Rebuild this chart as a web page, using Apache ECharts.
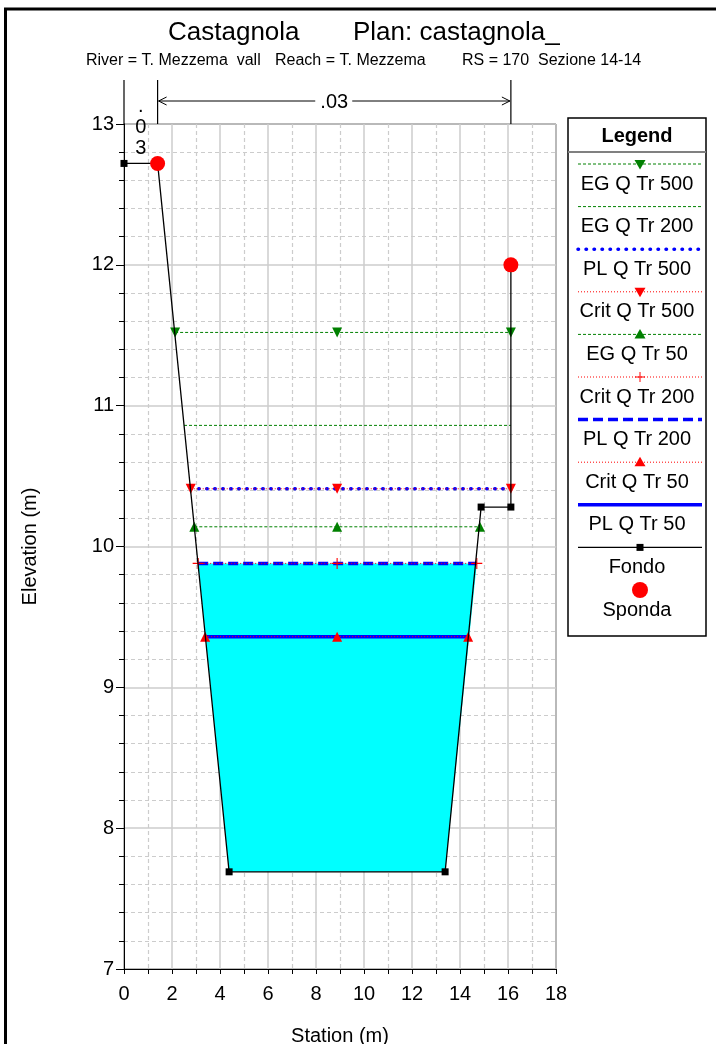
<!DOCTYPE html>
<html><head><meta charset="utf-8">
<script src="https://cdn.jsdelivr.net/npm/echarts@6/dist/echarts.min.js"></script>
<style>html,body{margin:0;padding:0;background:#fff}#c{width:716px;height:1044px}</style>
</head><body><div id="c"></div>
<script>
// ---- data ----
const groundStation = [0, 1.4, 4.38, 13.38, 14.88, 16.12, 16.12];
const groundElev    = [12.72, 12.72, 7.69, 7.69, 10.28, 10.28, 12.0];
const bankStation = [1.4, 16.12];
const bankElev    = [12.72, 12.0];
const waterStation = [3.09, 4.38, 13.38, 14.7];
const waterElev    = [9.88, 7.69, 7.69, 9.88];
const eg500Station = [2.13, 8.88, 16.12];  const eg500Elev = 11.52;
const eg200Station = [2.5, 16.12];         const eg200Elev = 10.86;
const pl500Station = [2.78, 16.12];        const pl500Elev = 10.41;
const crit500Station = [2.78, 8.88, 16.12]; const crit500Elev = 10.41;
const eg50Station = [2.93, 8.88, 14.83];   const eg50Elev = 10.14;
const crit200Station = [3.09, 8.88, 14.7]; const crit200Elev = 9.88;
const pl200Station = [3.09, 14.7];         const pl200Elev = 9.88;
const crit50Station = [3.38, 8.88, 14.34]; const crit50Elev = 9.36;
const pl50Station = [3.38, 14.34];         const pl50Elev = 9.36;
const manningStation = [0, 1.4, 16.12];
const manningValue = ['.03', '.03'];
const xTicks = [0, 2, 4, 6, 8, 10, 12, 14, 16, 18];
const yTicks = [7, 8, 9, 10, 11, 12, 13];
const legendNames = ['EG Q Tr 500','EG Q Tr 200','PL Q Tr 500','Crit Q Tr 500','EG Q Tr 50','Crit Q Tr 200','PL Q Tr 200','Crit Q Tr 50','PL Q Tr 50','Fondo','Sponda'];
const titleMain = 'Castagnola';
const titlePlan = 'Plan: castagnola_';
const subRiver = 'River = T. Mezzema  vall';
const subReach = 'Reach = T. Mezzema';
const subRS = 'RS = 170  Sezione 14-14';

// ---- styles ----
const FONT = "'Liberation Sans', Arial, Helvetica, sans-serif";
const GREEN = '#008000', RED = '#ff0000', BLUE = '#0000ff';
const PLUS = 'path://M4.5,0L5.5,0L5.5,4.5L10,4.5L10,5.5L5.5,5.5L5.5,10L4.5,10L4.5,5.5L0,5.5L0,4.5L4.5,4.5Z';

function flat(st, el) { return st.map(s => [s, el]); }
function lineSeries(name, data, color, width, dash, cap, symbol, rot, size, z) {
  return {
    name, type: 'line', data, z: z || 3,
    showSymbol: !!symbol, symbol: symbol || 'none', symbolSize: size || 10, symbolRotate: rot || 0,
    itemStyle: { color }, lineStyle: { color, width, type: dash, cap: cap || 'butt' },
    emphasis: { disabled: true }, silent: true, animation: false
  };
}

const chart = echarts.init(document.getElementById('c'), null, { renderer: 'canvas' });
const gridCol = '#cccccc';
const option = {
  animation: false,
  backgroundColor: '#fff',
  grid: { left: 124, top: 124, width: 432, height: 845, outerBoundsMode: 'none', containLabel: false,
          show: true, borderColor: '#000', borderWidth: 1, backgroundColor: 'transparent' },
  xAxis: {
    type: 'value', min: xTicks[0], max: xTicks[xTicks.length - 1], interval: 2,
    name: 'Station (m)', nameLocation: 'middle', nameGap: 57,
    nameTextStyle: { fontFamily: FONT, fontSize: 20, color: '#000' },
    axisLine: { onZero: false, lineStyle: { color: '#000', width: 1 } },
    axisTick: { show: true, length: 5, lineStyle: { color: '#000' } },
    minorTick: { show: true, splitNumber: 2, length: 5, lineStyle: { color: '#000' } },
    axisLabel: { fontFamily: FONT, fontSize: 20, color: '#000', margin: 15 },
    splitLine: { show: true, lineStyle: { color: gridCol, width: 1.5 } },
    minorSplitLine: { show: true, lineStyle: { color: gridCol, type: [4, 3], width: 1.2 } }
  },
  yAxis: {
    type: 'value', min: yTicks[0], max: yTicks[yTicks.length - 1], interval: 1,
    name: 'Elevation (m)', nameLocation: 'middle', nameGap: 84, nameRotate: 90,
    nameTextStyle: { fontFamily: FONT, fontSize: 20, color: '#000' },
    axisLine: { onZero: false, lineStyle: { color: '#000', width: 1 } },
    axisTick: { show: true, length: 8, lineStyle: { color: '#000' } },
    minorTick: { show: true, splitNumber: 5, length: 5, lineStyle: { color: '#000' } },
    axisLabel: { fontFamily: FONT, fontSize: 20, color: '#000', margin: 10 },
    splitLine: { show: true, lineStyle: { color: gridCol, width: 1.5 } },
    minorSplitLine: { show: true, lineStyle: { color: gridCol, type: [4, 3], width: 1.2 } }
  },
  series: [
    {
      type: 'custom', z: 1, silent: true, animation: false,
      data: waterStation.map((s, i) => [s, waterElev[i]]),
      renderItem: function (params, api) {
        if (params.dataIndex !== 0) return null;
        const pts = waterStation.map((s, i) => api.coord([s, waterElev[i]]));
        return { type: 'polygon', shape: { points: pts }, style: { fill: '#00ffff', stroke: null } };
      }
    },
    lineSeries('EG Q Tr 500', flat(eg500Station, eg500Elev), GREEN, 1, [3, 2], 'butt', 'triangle', 180, 10, 3),
    lineSeries('EG Q Tr 200', flat(eg200Station, eg200Elev), GREEN, 1, [3, 2], 'butt', null, 0, 0, 3),
    lineSeries('EG Q Tr 50', flat(eg50Station, eg50Elev), GREEN, 1, [3, 2], 'butt', 'triangle', 0, 10, 3),
    lineSeries('PL Q Tr 500', flat(pl500Station, pl500Elev), BLUE, 3.5, [0.5, 7.5], 'round', null, 0, 0, 4),
    lineSeries('PL Q Tr 200', flat(pl200Station, pl200Elev), BLUE, 3.5, [10, 5], 'butt', null, 0, 0, 4),
    lineSeries('PL Q Tr 50', flat(pl50Station, pl50Elev), BLUE, 3.5, 'solid', 'butt', null, 0, 0, 4),
    lineSeries('Crit Q Tr 500', flat(crit500Station, crit500Elev), RED, 1, [1, 2], 'butt', 'triangle', 180, 10, 5),
    lineSeries('Crit Q Tr 200', flat(crit200Station, crit200Elev), RED, 1, [1, 2], 'butt', PLUS, 0, 11, 5),
    lineSeries('Crit Q Tr 50', flat(crit50Station, crit50Elev), RED, 1, [1, 2], 'butt', 'triangle', 0, 10, 5),
    lineSeries('Fondo', groundStation.map((s, i) => [s, groundElev[i]]), '#000', 1.3, 'solid', 'butt', 'rect', 0, 7, 6),
    {
      name: 'Sponda', type: 'scatter', z: 20, zlevel: 1, silent: true, animation: false,
      data: bankStation.map((s, i) => [s, bankElev[i]]),
      symbol: 'circle', symbolSize: 15, itemStyle: { color: RED, opacity: 1 },
      emphasis: { disabled: true }
    }
  ]
};
chart.setOption(option);

// ---- graphics: frame, titles, manning annotation, legend ----
const g = [];
g.push({ type: 'polyline', shape: { points: [[5.5, 1044], [5.5, 9], [716, 9]] }, style: { stroke: '#000', lineWidth: 3, fill: null }, z: 10 });
g.push({ type: 'text', x: 168, y: 33, style: { text: titleMain, font: '26px ' + FONT, fill: '#000', textVerticalAlign: 'middle' } });
g.push({ type: 'text', x: 353, y: 33, style: { text: titlePlan, font: '26px ' + FONT, fill: '#000', textVerticalAlign: 'middle' } });
g.push({ type: 'text', x: 86, y: 61, style: { text: subRiver, font: '16px ' + FONT, fill: '#000', textVerticalAlign: 'middle' } });
g.push({ type: 'text', x: 275, y: 61, style: { text: subReach, font: '16px ' + FONT, fill: '#000', textVerticalAlign: 'middle' } });
g.push({ type: 'text', x: 462, y: 61, style: { text: subRS, font: '16px ' + FONT, fill: '#000', textVerticalAlign: 'middle' } });

const topY = 124, annTop = 80, arrowY = 101;
const mx = manningStation.map(s => chart.convertToPixel({ xAxisIndex: 0 }, s));
mx.forEach(x => g.push({ type: 'line', shape: { x1: x, y1: annTop, x2: x, y2: topY }, style: { stroke: '#000', lineWidth: 1.2 } }));
{
  const cx = (mx[0] + mx[1]) / 2;
  g.push({ type: 'text', x: cx, y: 127, style: { text: manningValue[0].split('').join('\n'), font: '20px ' + FONT, fill: '#000', align: 'center', verticalAlign: 'middle', lineHeight: 21 }, z: 9 });
}
{
  const x1 = mx[1], x2 = mx[2], cx = (x1 + x2) / 2;
  g.push({ type: 'text', x: cx, y: arrowY + 1, style: { text: manningValue[1], font: '20px ' + FONT, fill: '#000', align: 'center', verticalAlign: 'middle' } });
  g.push({ type: 'line', shape: { x1: x1 + 1, y1: arrowY, x2: cx - 19, y2: arrowY }, style: { stroke: '#000', lineWidth: 1 } });
  g.push({ type: 'line', shape: { x1: cx + 18, y1: arrowY, x2: x2 - 1, y2: arrowY }, style: { stroke: '#000', lineWidth: 1 } });
  g.push({ type: 'polyline', shape: { points: [[x1 + 9, arrowY - 4], [x1 + 1, arrowY], [x1 + 9, arrowY + 4]] }, style: { stroke: '#000', lineWidth: 1, fill: null } });
  g.push({ type: 'polyline', shape: { points: [[x2 - 9, arrowY - 4], [x2 - 1, arrowY], [x2 - 9, arrowY + 4]] }, style: { stroke: '#000', lineWidth: 1, fill: null } });
}

// legend
const LX = 568, LY = 118, LW = 138, LH = 518;
g.push({ type: 'rect', shape: { x: LX, y: LY, width: LW, height: LH }, style: { stroke: '#000', lineWidth: 1.5, fill: '#fff' }, z: 20 });
g.push({ type: 'text', x: LX + LW / 2, y: 136, style: { text: 'Legend', font: 'bold 20px ' + FONT, fill: '#000', align: 'center', verticalAlign: 'middle' }, z: 21 });
g.push({ type: 'line', shape: { x1: LX, y1: 152, x2: LX + LW, y2: 152 }, style: { stroke: '#808080', lineWidth: 2 }, z: 21 });
const legStyles = [
  { c: GREEN, w: 1, d: [3, 2], m: 'tdown' },
  { c: GREEN, w: 1, d: [3, 2], m: null },
  { c: BLUE, w: 3.5, d: [0.5, 7.5], cap: 'round', m: null },
  { c: RED, w: 1, d: [1, 2], m: 'tdown' },
  { c: GREEN, w: 1, d: [3, 2], m: 'tup' },
  { c: RED, w: 1, d: [1, 2], m: 'plus' },
  { c: BLUE, w: 3.5, d: [10, 5], m: null },
  { c: RED, w: 1, d: [1, 2], m: 'tup' },
  { c: BLUE, w: 3.5, d: null, m: null },
  { c: '#000', w: 1.3, d: null, m: 'sq' },
  { c: null, m: 'circle' }
];
const lx1 = 578, lx2 = 702, lcx = 640;
legendNames.forEach((name, i) => {
  const ly = 164 + i * 42.6;
  const s = legStyles[i];
  if (s.c) g.push({ type: 'line', shape: { x1: lx1, y1: ly, x2: lx2, y2: ly }, style: { stroke: s.c, lineWidth: s.w, lineDash: s.d, lineCap: s.cap || 'butt' }, z: 21 });
  if (s.m === 'tdown') g.push({ type: 'polygon', shape: { points: [[lcx - 5.5, ly - 4], [lcx + 5.5, ly - 4], [lcx, ly + 5.5]] }, style: { fill: s.c }, z: 22 });
  if (s.m === 'tup') g.push({ type: 'polygon', shape: { points: [[lcx - 5.5, ly + 4], [lcx + 5.5, ly + 4], [lcx, ly - 5.5]] }, style: { fill: s.c }, z: 22 });
  if (s.m === 'plus') {
    g.push({ type: 'line', shape: { x1: lcx - 5, y1: ly, x2: lcx + 5, y2: ly }, style: { stroke: RED, lineWidth: 1 }, z: 22 });
    g.push({ type: 'line', shape: { x1: lcx, y1: ly - 5, x2: lcx, y2: ly + 5 }, style: { stroke: RED, lineWidth: 1 }, z: 22 });
  }
  if (s.m === 'sq') g.push({ type: 'rect', shape: { x: lcx - 3.5, y: ly - 3.5, width: 7, height: 7 }, style: { fill: '#000' }, z: 22 });
  if (s.m === 'circle') g.push({ type: 'circle', shape: { cx: lcx, cy: ly, r: 8 }, style: { fill: RED }, z: 22 });
  g.push({ type: 'text', x: LX + LW / 2, y: ly + 20, style: { text: name, font: '20px ' + FONT, fill: '#000', align: 'center', verticalAlign: 'middle' }, z: 22 });
});
chart.setOption({ graphic: { elements: g } });
</script></body></html>
